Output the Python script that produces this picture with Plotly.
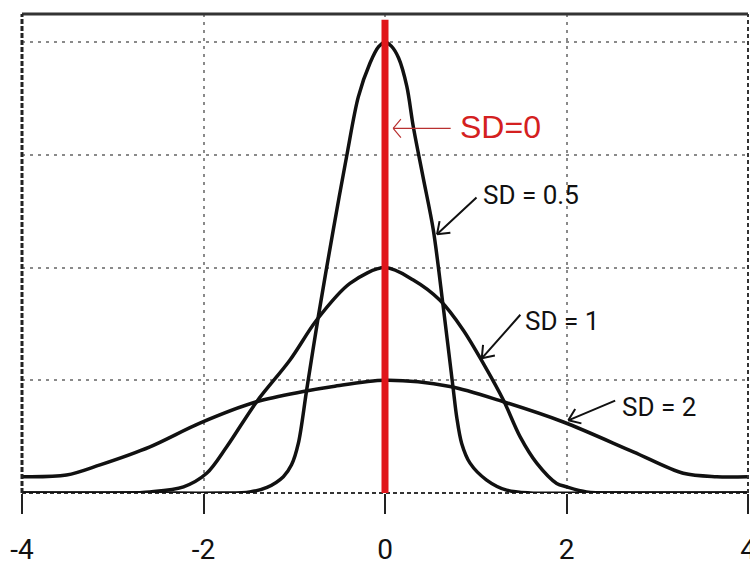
import math
import plotly.graph_objects as go

# ---- data ----
x_ticks = [-4, -2, 0, 2, 4]
x_tick_labels = ["-4", "-2", "0", "2", "4"]
y_grid = [0.2, 0.4, 0.6, 0.8]

sd05_x = [-4.0, -2.6, -1.8, -1.49, -1.3, -1.12, -1.03, -0.955, -0.863, -0.735, -0.57,
          -0.422, -0.294, -0.165, -0.07, 0.0, 0.07, 0.15, 0.24, 0.312, 0.42, 0.532, 0.642,
          0.753, 0.79, 0.845, 0.937, 1.12, 1.34, 1.6, 2.3, 4.0]
sd05_y = [0.0, 0.0, 0.0, 0.002, 0.01, 0.029, 0.05, 0.088, 0.183, 0.313, 0.467,
          0.598, 0.703, 0.763, 0.792, 0.8, 0.793, 0.772, 0.722, 0.65, 0.56, 0.467, 0.33,
          0.183, 0.135, 0.088, 0.053, 0.023, 0.005, 0.0, 0.0, 0.0]

sd1_x = [-4.0, -2.9, -2.59, -2.22, -1.965, -1.744, -1.414, -1.047, -0.753, -0.386,
         0.0, 0.312, 0.606, 0.863, 1.083, 1.304, 1.488, 1.672, 1.892, 2.0, 2.22, 2.6, 4.0]
sd1_y = [0.0, 0.0, 0.002, 0.011, 0.035, 0.082, 0.162, 0.236, 0.307, 0.372,
         0.4, 0.378, 0.342, 0.289, 0.23, 0.165, 0.1, 0.053, 0.017, 0.011, 0.002, 0.0, 0.0]

sd2_x = [-4.0, -3.51, -3.14, -2.59, -2.04, -1.414, -0.9, -0.57, 0.0, 0.716, 1.304,
         1.965, 2.736, 3.287, 3.655, 4.0]
sd2_y = [0.029, 0.032, 0.05, 0.082, 0.124, 0.162, 0.18, 0.189, 0.2, 0.189, 0.162,
         0.126, 0.073, 0.035, 0.029, 0.029]

sd0_x = [0, 0]
sd0_y = [0, 0.84]

labels = ["SD=0", "SD = 0.5", "SD = 1", "SD = 2"]
label_pos = [(0.80, 0.650), (1.055, 0.529), (1.52, 0.306), (2.59, 0.153)]
arrow_tip = [(0.09, 0.647), (0.573, 0.459), (1.066, 0.239), (2.02, 0.129)]
arrow_tail = [(0.74, 0.647), (1.025, 0.527), (1.506, 0.319), (2.553, 0.165)]

BLACK = "#111111"
RED = "#e0161b"
NARROW = "Roboto, sans-serif"

W, H = 750, 565
M = dict(l=22, r=2, t=14, b=72)
X_RANGE = [-4, 4]
Y_RANGE = [0, 0.85]
px_per_x = (W - M["l"] - M["r"]) / (X_RANGE[1] - X_RANGE[0])
px_per_y = (H - M["t"] - M["b"]) / (Y_RANGE[1] - Y_RANGE[0])

fig = go.Figure()
for xs, ys in [(sd2_x, sd2_y), (sd1_x, sd1_y), (sd05_x, sd05_y)]:
    fig.add_trace(go.Scatter(x=xs, y=ys, mode="lines",
                             line=dict(color=BLACK, width=3.5, shape="spline", smoothing=0.9),
                             hoverinfo="skip", showlegend=False))
fig.add_trace(go.Scatter(x=sd0_x, y=sd0_y, mode="lines",
                         line=dict(color=RED, width=7), showlegend=False, hoverinfo="skip"))

# borders of the plotting frame
fig.add_shape(type="line", xref="paper", yref="paper", x0=0, x1=1, y0=1, y1=1,
              line=dict(color="#333333", width=3))
fig.add_shape(type="line", xref="paper", yref="paper", x0=0, x1=0, y0=0, y1=1,
              line=dict(color="#222222", width=3, dash="5px,2px"))
fig.add_shape(type="line", xref="paper", yref="paper", x0=1, x1=1, y0=0, y1=1,
              line=dict(color="#333333", width=2, dash="4px,3px"))
fig.add_shape(type="line", xref="paper", yref="paper", x0=0, x1=1, y0=0, y1=0,
              line=dict(color="#333333", width=2, dash="4px,3px"), layer="below")

for i, (txt, (lx, ly), (tx, ty), (ax, ay)) in enumerate(zip(labels, label_pos, arrow_tip, arrow_tail)):
    is_red = i == 0
    col = "#b83030" if is_red else BLACK
    lw = 1.2 if is_red else 2
    # shaft
    fig.add_annotation(x=tx, y=ty, ax=ax, ay=ay, xref="x", yref="y", axref="x", ayref="y",
                       text="", showarrow=True, arrowhead=0, arrowwidth=lw,
                       arrowcolor=col, standoff=0, startstandoff=0)
    # open arrow-head barbs (pixel offsets from the tip)
    dx = (ax - tx) * px_per_x
    dy = -(ay - ty) * px_per_y
    ang = math.atan2(dy, dx)
    half = math.radians(50 if is_red else 36)
    blen = 14 if is_red else 15
    for s in (-1, 1):
        a = ang + s * half
        fig.add_annotation(x=tx, y=ty, xref="x", yref="y",
                           ax=blen * math.cos(a), ay=blen * math.sin(a),
                           axref="pixel", ayref="pixel",
                           text="", showarrow=True, arrowhead=0, arrowwidth=lw,
                           arrowcolor=col, standoff=0, startstandoff=0)
    fig.add_annotation(x=lx, y=ly, xref="x", yref="y", text=txt, showarrow=False,
                       xanchor="left", yanchor="middle",
                       font=dict(family="Liberation Sans, Arial, sans-serif" if is_red else NARROW,
                                 size=32 if is_red else 26,
                                 color="#d42020" if is_red else BLACK))

fig.update_xaxes(range=X_RANGE, tickvals=x_ticks, ticktext=x_tick_labels,
                 ticks="outside", ticklen=20, tickwidth=2, tickcolor="#222222",
                 ticklabelstandoff=11, automargin=False, ticklabeloverflow="allow",
                 tickfont=dict(family=NARROW, size=28, color=BLACK),
                 showgrid=True, gridcolor="#8a8a8a", gridwidth=2, griddash="3px,5px",
                 zeroline=False, showline=False)
fig.update_yaxes(range=Y_RANGE, tickvals=y_grid, showticklabels=False, ticks="",
                 automargin=False,
                 showgrid=True, gridcolor="#8a8a8a", gridwidth=2, griddash="3px,5px",
                 zeroline=False, showline=False)
fig.update_layout(width=W, height=H, margin=dict(**M, autoexpand=False),
                  plot_bgcolor="white", paper_bgcolor="white")
fig.write_html("out.html", config={"displayModeBar": False},
               post_script="document.body.style.margin='0px';")
